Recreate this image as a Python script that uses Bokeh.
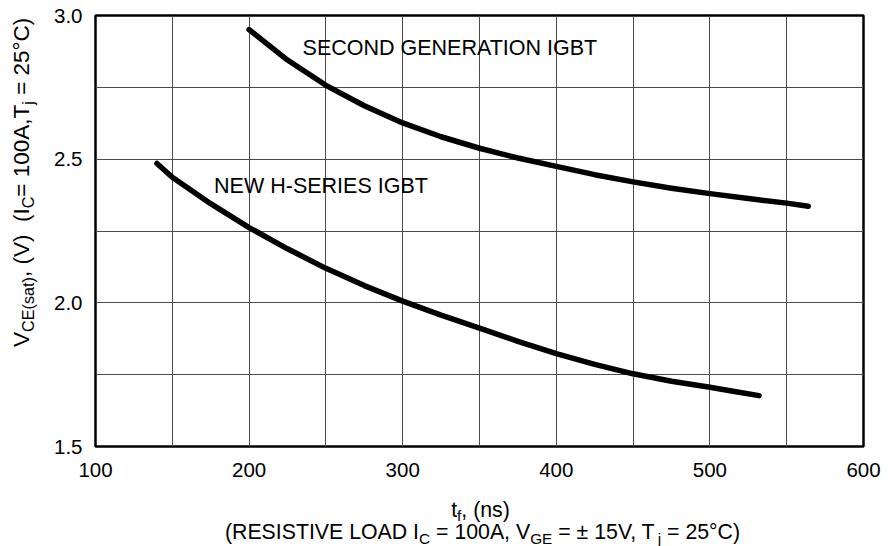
import math
from bokeh.plotting import figure
from bokeh.layouts import row, column
from bokeh.models import FixedTicker, PrintfTickFormatter, Label, Range1d
from bokeh.embed import file_html
from bokeh.resources import INLINE

# ---------------- data ----------------
x_ticks = [100, 200, 300, 400, 500, 600]
x_minor = [150, 250, 350, 450, 550]
y_ticks = [1.5, 2.0, 2.5, 3.0]
y_minor = [1.75, 2.25, 2.75]

second_gen_tf = [200, 225, 250, 275, 300, 325, 350, 375, 400, 425, 450, 475, 500, 525, 550, 564]
second_gen_vce = [2.951, 2.845, 2.757, 2.686, 2.626, 2.578, 2.538, 2.504, 2.475, 2.446, 2.421, 2.399, 2.380, 2.363, 2.347, 2.336]

h_series_tf = [140, 150, 175, 200, 225, 250, 275, 300, 325, 350, 375, 400, 425, 450, 475, 500, 515, 532]
h_series_vce = [2.485, 2.437, 2.345, 2.262, 2.188, 2.120, 2.060, 2.006, 1.957, 1.912, 1.866, 1.823, 1.786, 1.753, 1.727, 1.706, 1.692, 1.677]

second_gen_name = "SECOND GENERATION IGBT"
h_series_name = "NEW H-SERIES IGBT"

# ---------------- layout ----------------
FONT = "Liberation Sans"
PAGE_W, PAGE_H = 894, 546
LEFT_W = 48          # strip holding the y-axis title
MAIN_H = 497         # main chart height, x-title strip below it
FRAME_L, FRAME_R, FRAME_T, FRAME_B = 95, 863, 15, 446  # page px
X0, X1, Y0, Y1 = 100, 600, 1.5, 3.0

MAIN_W = PAGE_W - LEFT_W
p = figure(width=MAIN_W, height=MAIN_H, output_backend="svg", toolbar_location=None,
           x_range=Range1d(X0, X1), y_range=Range1d(Y0, Y1),
           min_border_left=FRAME_L - LEFT_W, min_border_right=PAGE_W - FRAME_R,
           min_border_top=FRAME_T, min_border_bottom=MAIN_H - FRAME_B)
p.background_fill_color = "white"
p.border_fill_color = "white"
p.outline_line_color = "black"
p.outline_line_width = 2.5

p.xaxis.ticker = FixedTicker(ticks=x_ticks, minor_ticks=x_minor)
p.yaxis.ticker = FixedTicker(ticks=y_ticks, minor_ticks=y_minor)
p.yaxis.formatter = PrintfTickFormatter(format="%.1f")
for ax in (p.xaxis, p.yaxis):
    ax.axis_line_color = None
    ax.major_tick_line_color = None
    ax.minor_tick_line_color = None
    ax.major_tick_out = 0
    ax.major_tick_in = 0
    ax.major_label_text_font = FONT
    ax.major_label_text_font_size = "20.5px"
    ax.major_label_text_color = "black"
p.xaxis.major_label_standoff = 12
p.yaxis.major_label_standoff = 9

GRID = "#4a4a4a"
for g in (p.xgrid, p.ygrid):
    g.grid_line_color = GRID
    g.grid_line_width = 1
    g.minor_grid_line_color = GRID
    g.minor_grid_line_width = 1

p.line(second_gen_tf, second_gen_vce, line_color="black", line_width=5.5,
       line_cap="round", line_join="round")
p.line(h_series_tf, h_series_vce, line_color="black", line_width=5.5,
       line_cap="round", line_join="round")

p.add_layout(Label(x=234.8, y=2.886, text=second_gen_name, text_font=FONT,
                   text_font_size="21.5px", text_color="black",
                   text_align="left", text_baseline="middle"))
p.add_layout(Label(x=177.2, y=2.405, text=h_series_name, text_font=FONT,
                   text_font_size="21.5px", text_color="black",
                   text_align="left", text_baseline="middle"))


# ---------------- title strips: data coords = page px (x), -page px (y) ----------------
def strip(w, h, xr, yr, bl, br, bt, bb):
    f = figure(width=w, height=h, output_backend="svg", toolbar_location=None,
               x_range=Range1d(*xr), y_range=Range1d(*yr),
               x_axis_location=None, y_axis_location=None,
               min_border_left=bl, min_border_right=br,
               min_border_top=bt, min_border_bottom=bb)
    f.outline_line_color = None
    f.background_fill_color = "white"
    f.border_fill_color = "white"
    f.xgrid.visible = False
    f.ygrid.visible = False
    return f


# left strip: page x 0..48, same vertical frame as the chart
left = strip(LEFT_W, MAIN_H, (0, LEFT_W), (-FRAME_B, -FRAME_T),
             0, 0, FRAME_T, MAIN_H - FRAME_B)
# bottom strip: page y 497..546, same horizontal frame as the chart
bottom = strip(MAIN_W, PAGE_H - MAIN_H, (FRAME_L, FRAME_R), (-PAGE_H, -MAIN_H),
               FRAME_L - LEFT_W, PAGE_W - FRAME_R, 0, 0)

AW = {' ': 278, '\u00a0': 278, '(': 333, ')': 333, ',': 278, '.': 278, '=': 584,
      '\u00b1': 584, '\u00b0': 400, 'A': 667, 'B': 667, 'C': 722, 'D': 722,
      'E': 667, 'G': 778, 'I': 278, 'L': 556, 'O': 778, 'R': 722, 'S': 667,
      'T': 611, 'V': 667, 'a': 556, 'f': 278, 'j': 222, 'n': 556, 's': 500,
      't': 278, 'N': 722}
for d in "0123456789":
    AW[d] = 556


def tw(s, size):
    return sum(AW.get(c, 556) for c in s) * size / 1000.0


SUB_SCALE = 0.72
SUB_SHIFT = 0.19
MID = 0.347   # alphabetic baseline lies this many em below the 'middle' anchor


def put(fig, px, py, t, fs, vertical=False):
    if vertical:
        x, y, ang = px - MID * fs, -py, math.pi / 2
    else:
        x, y, ang = px, -(py - MID * fs), 0.0
    fig.add_layout(Label(x=x, y=y, text=t, angle=ang,
                         text_font=FONT, text_font_size=f"{fs:.2f}px",
                         text_color="black", text_align="left",
                         text_baseline="middle"))


def pieces_iter(pieces, size):
    pos = 0.0
    for t, s in pieces:
        fs = size * SUB_SCALE if s else size
        lead = len(t) - len(t.lstrip(' '))
        pos += tw(' ' * lead, fs)
        body = t.strip(' ')
        yield pos, body, fs, s
        pos += tw(body, fs) + tw(' ' * (len(t) - lead - len(body)), fs)


def total_w(pieces, size):
    return sum(tw(t, size * SUB_SCALE if s else size) for t, s in pieces)


def rich_h(fig, pieces, cx_page, base_page, size, sub_shift=SUB_SHIFT):
    x0 = cx_page - total_w(pieces, size) / 2
    for pos, body, fs, s in pieces_iter(pieces, size):
        put(fig, x0 + pos, base_page + (size * sub_shift if s else 0), body, fs)


def rich_v(fig, pieces, base_page_x, start_page_y, size):
    for pos, body, fs, s in pieces_iter(pieces, size):
        put(fig, base_page_x + (size * SUB_SHIFT if s else 0), start_page_y - pos,
            body, fs, vertical=True)


x_title_1 = [("t", False), ("f", True), (", (ns)", False)]
x_title_2 = [("(RESISTIVE LOAD I", False), ("C", True), (" = 100A, V", False),
             ("GE", True), (" = \u00b1 15V, T", False), ("j", True),
             (" = 25\u00b0C)", False)]
y_title = [("V", False), ("CE(sat)", True), (", (V) \u00a0(I", False), ("C", True),
           ("= 100A,T", False), ("j", True), (" = 25\u00b0C)", False)]

rich_h(bottom, x_title_1, 480, 516.5, 21.3, sub_shift=0.16)
rich_h(bottom, x_title_2, 482, 539, 21.3)
rich_v(left, y_title, 28.5, 346.5, 22.5)

layout = row(left, column(p, bottom, spacing=0), spacing=0)
open("out.html", "w").write(file_html(layout, INLINE))
